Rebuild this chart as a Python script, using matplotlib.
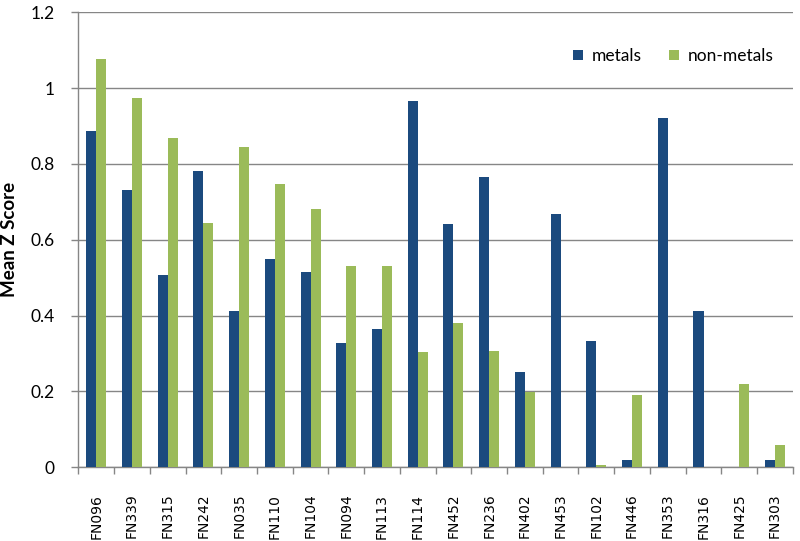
import numpy as np
import matplotlib
matplotlib.use("Agg")
import matplotlib.pyplot as plt

categories = ["FN096", "FN339", "FN315", "FN242", "FN035", "FN110", "FN104",
              "FN094", "FN113", "FN114", "FN452", "FN236", "FN402", "FN453",
              "FN102", "FN446", "FN353", "FN316", "FN425", "FN303"]
metals = [0.887, 0.731, 0.508, 0.781, 0.413, 0.550, 0.516, 0.327, 0.364, 0.966,
          0.641, 0.766, 0.251, 0.667, 0.334, 0.019, 0.921, 0.413, 0.0, 0.019]
non_metals = [1.076, 0.974, 0.868, 0.644, 0.846, 0.747, 0.682, 0.531, 0.531, 0.304,
              0.380, 0.308, 0.199, 0.0, 0.005, 0.191, 0.0, 0.0, 0.220, 0.058]

BLUE = "#1B4A7E"
GREEN = "#9BBB59"
GRID = "#868686"

fig = plt.figure(figsize=(8, 5.41), dpi=100)
ax = fig.add_axes([0.098, 0.1362, 0.893, 0.8411])

x = np.arange(len(categories))
w = 0.28
ax.bar(x - w / 2, metals, w, color=BLUE, label="metals", zorder=3)
ax.bar(x + w / 2, non_metals, w, color=GREEN, label="non-metals", zorder=3)

ax.set_xlim(-0.5, len(categories) - 0.5)
ax.set_ylim(0, 1.2)
ax.set_yticks([0, 0.2, 0.4, 0.6, 0.8, 1.0, 1.2])
ax.set_yticklabels(["0", "0.2", "0.4", "0.6", "0.8", "1", "1.2"],
                   fontfamily="Lato", fontsize=12.5)
ax.yaxis.grid(True, color=GRID, linewidth=1.0, zorder=0)
ax.set_axisbelow(True)

# category labels at centers, tick marks at boundaries
ax.set_xticks(x)
ax.set_xticklabels(categories, rotation=90, fontsize=10, va="top")
ax.tick_params(axis="x", which="major", length=0, pad=19)
ax.set_xticks(np.arange(len(categories) + 1) - 0.5, minor=True)
ax.tick_params(axis="x", which="minor", length=5, color=GRID, width=1)
ax.tick_params(axis="y", length=5, color=GRID, width=1, pad=12)

for s in ["top", "right"]:
    ax.spines[s].set_visible(False)
for s in ["left", "bottom"]:
    ax.spines[s].set_color(GRID)
    ax.spines[s].set_linewidth(1.0)

ax.set_ylabel("Mean Z Score", fontfamily="Lato", fontweight="bold",
              fontsize=13.5, labelpad=9)

leg = ax.legend(loc="upper right", ncol=2, frameon=False,
                bbox_to_anchor=(0.995, 0.955), handlelength=0.55,
                handleheight=0.55, handletextpad=0.5, columnspacing=1.6,
                prop={"family": "Lato", "size": 12.5})

fig.savefig("out.png", dpi=100)
